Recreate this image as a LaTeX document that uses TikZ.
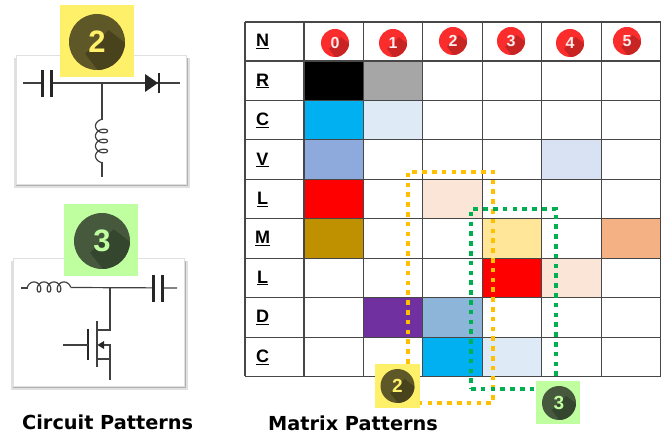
\documentclass[tikz,border=0pt]{standalone}
\usepackage{fontspec}
\setmainfont{Liberation Sans}
\newfontfamily\vfont{DejaVu Sans}
\usetikzlibrary{arrows.meta,calc}
\definecolor{cblue}{HTML}{00B0F0}
\definecolor{clight}{HTML}{DEEAF6}
\definecolor{cgrey}{HTML}{A6A6A6}
\definecolor{cperi}{HTML}{8EA9DB}
\definecolor{cpale}{HTML}{D9E2F3}
\definecolor{cpeach}{HTML}{FBE5D6}
\definecolor{cgold}{HTML}{BF9000}
\definecolor{csand}{HTML}{FFE699}
\definecolor{corange}{HTML}{F4B183}
\definecolor{cpurple}{HTML}{7030A0}
\definecolor{csteel}{HTML}{8DB4D9}
\definecolor{bgyellow}{HTML}{FFF06A}
\definecolor{bggreen}{HTML}{C0FFA0}
\definecolor{dotyellow}{HTML}{FFC000}
\definecolor{dotgreen}{HTML}{00B050}
\definecolor{discy}{HTML}{5E5728}
\definecolor{shady}{HTML}{48421D}
\definecolor{discg}{HTML}{47593D}
\definecolor{shadg}{HTML}{35462E}
\definecolor{discr}{HTML}{FB2C2C}
\definecolor{shadr}{HTML}{C82424}
\tikzset{
  wire/.style={draw=black!75,line width=1.2pt},
  plate/.style={draw=black!85,line width=2.8pt},
  gridline/.style={draw=black!72,line width=1.1pt},
  panel/.style={fill=white,draw=black!12,line width=.5pt},
  headlabel/.style={font=\fontsize{18}{20}\selectfont\bfseries,inner sep=0pt,anchor=center},
  caption/.style={font=\vfont\fontsize{19.3}{22}\selectfont\bfseries,inner sep=0pt,anchor=base west},
  digit/.style={font=\bfseries,inner sep=0pt},
  dotbox/.style={line width=4pt,dash pattern=on 4.6pt off 5.2pt}
}
% #1 name, #2 x, #3 y, #4 radius, #5 disc colour, #6 shade colour, #7 digit colour, #8 digit, #9 size
\newcommand{\badge}[9]{%
  \fill[#5] (#2,#3) circle[radius=#4];
  \begin{scope}
    \clip (#2,#3) circle[radius=#4];
    \fill[#6] (#2-0.42*#4,#3+0.42*#4) -- (#2+0.42*#4,#3-0.42*#4) -- (#2+2*#4,#3+0.8*#4) -- (#2+0.8*#4,#3+2*#4) -- cycle;
  \end{scope}
  \node[digit,text=#7,font=\bfseries\fontsize{#9}{#9}\selectfont] (#1) at (#2,#3) {#8};
}
\begin{document}
\begin{tikzpicture}[x=1pt,y=-1pt]
\useasboundingbox (0,0) rectangle (665,435);
\fill[white] (0,0) rectangle (665,435);

% left panels with shadows
\fill[black!12] (14,58) rectangle (190,188);
\fill[black!30] (15.5,58) rectangle (188,186);
\filldraw[panel] (16,55) rectangle (186,184);
\fill[black!12] (11,261) rectangle (188,390);
\fill[black!30] (12.5,261) rectangle (186,388);
\filldraw[panel] (13,258) rectangle (184,386);

% circuit 1
\coordinate (w1a) at (23,83);
\coordinate (w1b) at (180,83);
\coordinate (t1) at (102,83);
\draw[wire] (w1a) -- (w1b);
\draw[wire] (t1) -- (102,120);
\draw[wire] plot[domain=-90:1170,samples=160,smooth] ({101.5-6*cos(\x)},{126+10*\x/360+4*sin(\x)});
\draw[wire] (102,162) -- (102,177);
\fill[white] (44,75) rectangle (50,91);
\draw[plate] (42.5,70) -- (42.5,97);
\draw[plate] (51.5,70) -- (51.5,97);
\fill[black!85] (145,74) -- (158,83) -- (145,92) -- cycle;
\draw[draw=black!85,line width=1.4pt] (159,73) -- (159,93);

% circuit 2
\coordinate (w2a) at (21,288);
\coordinate (w2b) at (177,288);
\coordinate (t2) at (110,288);
\draw[wire] (w2a) -- (27.5,288);
\draw[wire] plot[domain=-90:1170,samples=160,smooth] ({34+10*\x/360+4*sin(\x)},{287-5*cos(\x)});
\draw[wire] (70.5,287.5) -- (w2b);
\draw[wire] (t2) -- (110,330) -- (97,330);
\fill[white] (155,280) rectangle (161,296);
\draw[plate] (153.5,275) -- (153.5,302);
\draw[plate] (162.5,275) -- (162.5,302);
\draw[wire,line width=1.4pt] (97,321) -- (97,367);
\draw[plate] (88,329) -- (88,360);
\draw[wire] (63,345) -- (88,345);
\draw[wire] (110,380) -- (110,345) -- (103,345);
\fill[black!85] (97.5,345) -- (104,341) -- (104,349) -- cycle;
\draw[wire] (97,359) -- (110,359);

% matrix fills
\foreach \c/\r/\col in {0/0/black,1/0/cgrey,0/1/cblue,1/1/clight,0/2/cperi,4/2/cpale,
  0/3/red,2/3/cpeach,0/4/cgold,3/4/csand,5/4/corange,3/5/red,4/5/cpeach,
  1/6/cpurple,2/6/csteel,2/7/cblue,3/7/clight}{
  \fill[\col] ({304+59.43*\c},{61+39.44*\r}) rectangle ({304+59.43*(\c+1)},{61+39.44*(\r+1)});
}
% matrix grid
\foreach \i in {0,...,6}{\draw[gridline] ({304+59.43*\i},22) -- ({304+59.43*\i},376.5);}
\draw[gridline] (245,22) -- (245,376.5);
\foreach \j in {0,...,8}{\draw[gridline] (245,{61+39.44*\j}) -- (660.6,{61+39.44*\j});}
\draw[gridline] (245,22) -- (660.6,22);

% row labels
\foreach \n/\t/\yy in {lN/N/41.5,lR/R/81,lC/C/120.5,lV/V/160,lL/L/199.5,lM/M/238.5,lLb/L/278,lD/D/317.5,lCb/C/357}{
  \node[headlabel] (\n) at (262.5,\yy) {\underline{\t}};
}

% red column badges
\badge{c0}{335}{43}{14}{discr}{shadr}{white!92!red}{0}{16}
\badge{c1}{393}{43}{14}{discr}{shadr}{white!92!red}{1}{16}
\badge{c2}{453}{41}{14}{discr}{shadr}{white!92!red}{2}{16}
\badge{c3}{511}{41}{14}{discr}{shadr}{white!92!red}{3}{16}
\badge{c4}{570}{43}{14}{discr}{shadr}{white!92!red}{4}{16}
\badge{c5}{627}{41}{14}{discr}{shadr}{white!92!red}{5}{16}

% dotted pattern frames
\draw[dotbox,dotyellow] (408,403) -- (493,403) -- (493,172) -- (408,172) -- cycle;
\draw[dotbox,dotgreen] (471,389) -- (556,389) -- (556,209) -- (471,209) -- cycle;

% large badges
\fill[bgyellow] (60,5) rectangle (134,77);
\badge{b2}{97}{42}{28}{discy}{shady}{bgyellow}{2}{31}
\fill[bggreen] (64,204) rectangle (138,276);
\badge{b3}{102}{241}{28}{discg}{shadg}{bggreen}{3}{31}
% small badges
\fill[bgyellow] (375,364) rectangle (420,408);
\badge{s2}{397.5}{386}{17}{discy}{shady}{bgyellow}{2}{19}
\fill[bggreen] (536,381) rectangle (580,424);
\badge{s3}{559}{403}{17}{discg}{shadg}{bggreen}{3}{19}

% captions
\node[caption] (capc) at (22,429.5) {Circuit Patterns};
\node[caption] (capm) at (268,430.2) {Matrix Patterns};
\end{tikzpicture}
\end{document}
